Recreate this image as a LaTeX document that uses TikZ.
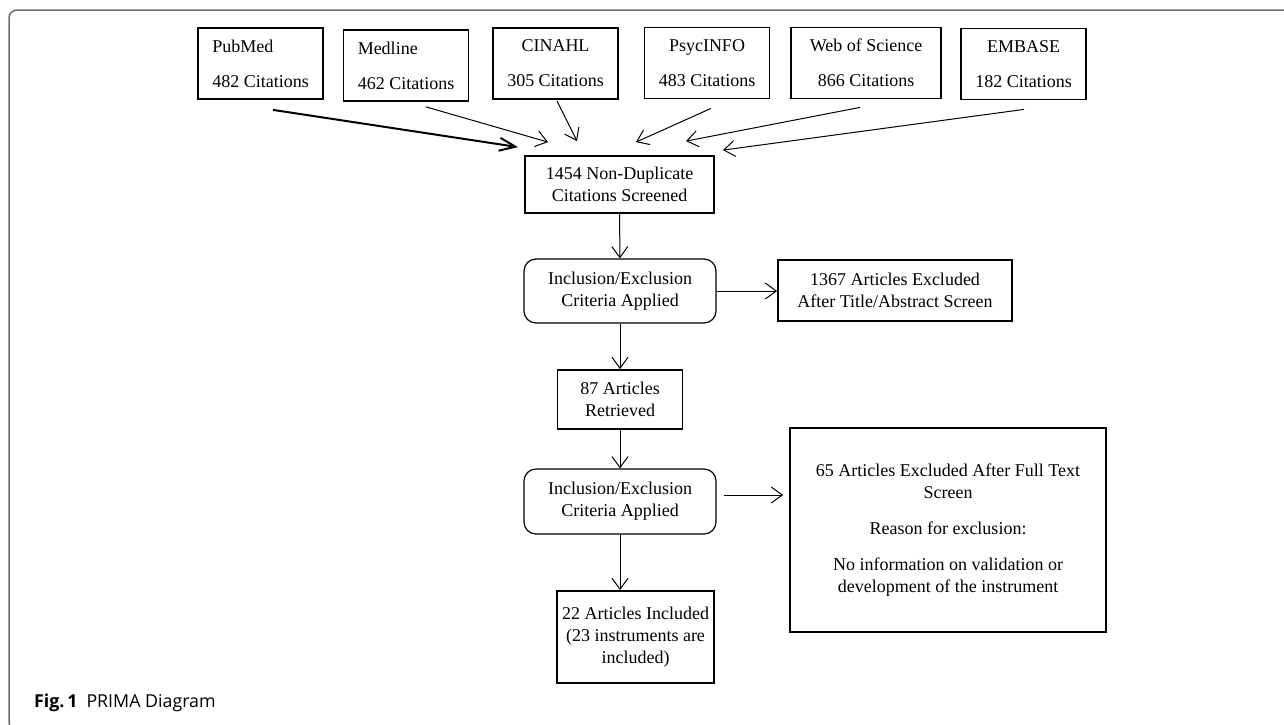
\documentclass[tikz,border=0pt]{standalone}
\usepackage{fontspec}
\setmainfont{Liberation Serif}
\newfontfamily\capfont{Open Sans}
\usepackage{tikz}
\usetikzlibrary{arrows.meta}
\definecolor{framegray}{gray}{0.42}

\begin{document}
\begin{tikzpicture}[x=0.5pt, y=-0.5pt,
    every node/.style={font=\fontsize{9}{11}\selectfont},
    dbbox/.style={draw, line width=0.9pt, minimum width=62.5pt, minimum height=35.5pt, align=center, inner sep=0pt},
    stepbox/.style={draw, line width=0.9pt, align=center, inner sep=0pt},
    critbox/.style={draw, line width=0.6pt, rounded corners=6pt, minimum width=96pt, align=center, inner sep=0pt},
    arr/.style={-{Straight Barb[length=5.5pt,width=8pt]}, line width=0.5pt},
    bigarr/.style={-{Straight Barb[length=8pt,width=6.5pt]}, line width=1pt}]
    \clip (0,0) rectangle (1284,724);

    % Frame and caption
    \draw[framegray, line width=0.75pt, rounded corners=4pt] (1300,10) -- (9,10) -- (9,730) -- (100,730);
    \node[anchor=base west, font=\capfont\fontsize{8.9}{11}\selectfont] (caption) at (27,707) {\textbf{Fig.\,1}\hspace{4.5pt}PRIMA Diagram};

    % TOP: Databases
    \node[dbbox, align=left] (pubmed) at (260.5,63.5) {PubMed\\[6.5pt]482 Citations};
    \node[dbbox, align=left] (medline) at (406,65.5) {Medline\\[6.5pt]462 Citations};
    \node[dbbox] (cinahl) at (555.5,63.5) {CINAHL\\[6.5pt]305 Citations};
    \node[dbbox] (psyc) at (707,63) {PsycINFO\\[6.5pt]483 Citations};
    \node[dbbox, minimum width=75pt] (wos) at (866,63) {Web of Science\\[6.5pt]866 Citations};
    \node[dbbox] (embase) at (1023.5,64) {EMBASE\\[6.5pt]182 Citations};

    % MIDDLE: Screening column
    \node[stepbox, minimum width=94.5pt, minimum height=28.5pt] (screened) at (619.5,184.5) {1454 Non-Duplicate\\Citations Screened};
    \node[critbox, minimum height=32pt] (crit1) at (620,291) {Inclusion/Exclusion\\Criteria Applied};
    \node[stepbox, minimum width=62.5pt, minimum height=29.5pt] (retrieved) at (620,399.5) {87 Articles\\Retrieved};
    \node[critbox, minimum height=32.5pt] (crit2) at (620,501.5) {Inclusion/Exclusion\\Criteria Applied};
    \node[stepbox, minimum width=78.5pt, minimum height=46pt] (included) at (635.5,637) {22 Articles Included\\(23 instruments are\\included)};

    % RIGHT: Exclusions
    \node[stepbox, minimum width=117pt, minimum height=30.5pt] (excl1) at (895,290.5) {1367 Articles Excluded\\After Title/Abstract Screen};
    \node[stepbox, minimum width=158pt, minimum height=102pt] (excl2) at (948,530) {65 Articles Excluded After Full Text\\Screen\\[7pt]Reason for exclusion:\\[7pt]No information on validation or\\development of the instrument};

    % Arrows into screening
    \draw[bigarr] ([shift={(12.5,10)}]pubmed.south) -- ([shift={(-101.5,-8)}]screened.north);
    \draw[arr] ([shift={(20,5)}]medline.south) -- ([shift={(-71.5,-13)}]screened.north);
    \draw[arr] ([shift={(1.5,1)}]cinahl.south) -- ([shift={(-42.5,-14)}]screened.north);
    \draw[arr] ([shift={(4,9)}]psyc.south) -- ([shift={(16.5,-13)}]screened.north);
    \draw[arr] ([shift={(-6,8)}]wos.south) -- ([shift={(66.5,-14)}]screened.north);
    \draw[arr] ([shift={(0.5,9)}]embase.south) -- ([shift={(103.5,-5)}]screened.north);

    % Column arrows
    \draw[arr] (screened) -- (crit1);
    \draw[arr] (crit1.east) -- (crit1.east -| excl1.west);
    \draw[arr] (crit1) -- (retrieved);
    \draw[arr] (retrieved) -- (crit2);
    \draw[arr] ([shift={(7,-6.5)}]crit2.east) -- ([shift={(-6,-6.5)}]crit2.east -| excl2.west);
    \draw[arr] (crit2.south) -- (crit2.south |- included.north);
\end{tikzpicture}
\end{document}
